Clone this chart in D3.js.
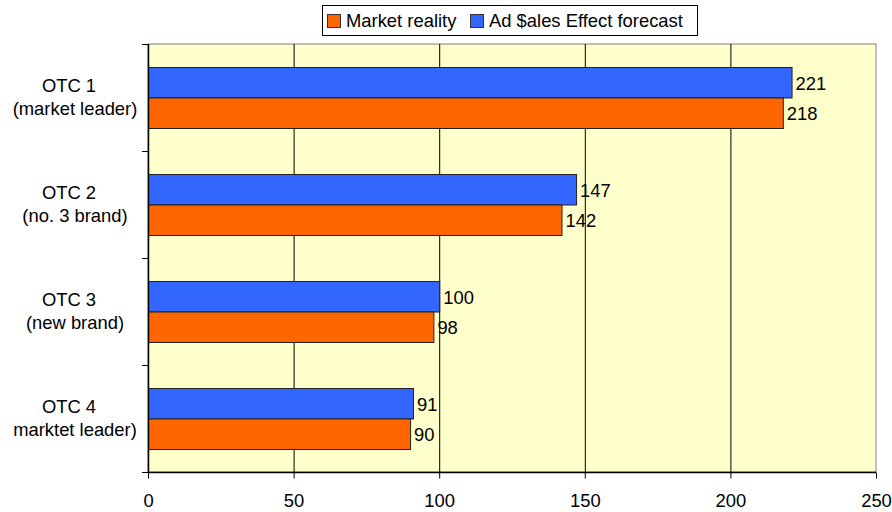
<!DOCTYPE html>
<html><head><meta charset="utf-8">
<script src="https://cdn.jsdelivr.net/npm/d3@7/dist/d3.min.js"></script>
<style>
html,body{margin:0;padding:0;background:#fff;}
svg{display:block;font-family:"Liberation Sans",Arial,sans-serif;}
</style></head>
<body>
<svg id="chart" width="892" height="512"></svg>
<script>
const categories = ["OTC 1", "OTC 2", "OTC 3", "OTC 4"];
const subLabels = ["(market leader)", "(no. 3 brand)", "(new brand)", "marktet leader)"];
const seriesNames = ["Ad $ales Effect forecast", "Market reality"];
const forecast = [221, 147, 100, 91];
const reality = [218, 142, 98, 90];
const xTicks = [0, 50, 100, 150, 200, 250];
const legendOrder = ["Market reality", "Ad $ales Effect forecast"];
const colors = {"Market reality": "#FF6600", "Ad $ales Effect forecast": "#3366FF"};

const values = {"Ad $ales Effect forecast": forecast, "Market reality": reality};
const FS = 18.4;

const svg = d3.select("#chart");
const L = 148, R = 876, T = 44, B = 472;

const x = d3.scaleLinear().domain([0, 250]).range([L, R]);
const y = d3.scaleBand().domain(categories).range([T, B]).paddingInner(0.43).paddingOuter(0.215);
const ySub = d3.scaleBand().domain(seriesNames).range([0, y.bandwidth()]);

// plot background
svg.append("rect").attr("x", L).attr("y", T).attr("width", R - L).attr("height", B - T)
  .attr("fill", "#FFFFCC").attr("stroke", "#808080").attr("stroke-width", 1);

// gridlines
svg.append("g").selectAll("line").data(xTicks.filter(d => d > 0 && d < 250)).join("line")
  .attr("x1", d => x(d) + 0.5).attr("x2", d => x(d) + 0.5)
  .attr("y1", T).attr("y2", B).attr("stroke", "#000").attr("stroke-width", 1);

// bars
const g = svg.append("g");
categories.forEach((c, i) => {
  seriesNames.forEach(s => {
    const v = values[s][i];
    const yy = y(c) + ySub(s);
    g.append("rect")
      .attr("x", x(0) + 0.5).attr("y", yy + 0.5)
      .attr("width", x(v) - x(0)).attr("height", ySub.bandwidth())
      .attr("fill", colors[s]).attr("stroke", "#222").attr("stroke-width", 1);
    g.append("text")
      .attr("x", x(v) + 4).attr("y", yy + ySub.bandwidth() / 2 + 1)
      .attr("dy", "0.35em").attr("font-size", FS).attr("fill", "#000")
      .text(v);
  });
});

// left axis line and ticks at band boundaries
const boundaries = categories.map(c => y(c) - y.step() * y.paddingInner() / 2).concat([B]);
svg.append("line").attr("x1", L + 0.5).attr("x2", L + 0.5).attr("y1", T).attr("y2", B)
  .attr("stroke", "#000").attr("stroke-width", 1.5);
svg.append("g").selectAll("line").data(boundaries).join("line")
  .attr("x1", L - 6).attr("x2", L).attr("y1", d => Math.round(d) + 0.5).attr("y2", d => Math.round(d) + 0.5)
  .attr("stroke", "#000");

// category labels
categories.forEach((c, i) => {
  const cy = y(c) + y.bandwidth() / 2;
  const t = svg.append("text").attr("font-size", FS).attr("text-anchor", "middle").attr("fill", "#000");
  t.append("tspan").attr("x", 69).attr("y", cy - 5.5).text(c);
  t.append("tspan").attr("x", 75).attr("y", cy + 17.5).text(subLabels[i]);
});

// bottom axis
const xAxis = d3.axisBottom(x).tickValues(xTicks).tickSize(6).tickPadding(15);
const ax = svg.append("g").attr("transform", `translate(0,${B + 0.5})`).call(xAxis);
ax.select(".domain").attr("stroke", "#000").attr("stroke-width", 1.5).attr("d", `M${L},0H${R}`);
ax.selectAll(".tick line").attr("stroke", "#000");
ax.selectAll(".tick text").attr("font-size", FS).attr("fill", "#000")
  .attr("font-family", "Liberation Sans, Arial, sans-serif");

// legend
const lg = svg.append("g");
lg.append("rect").attr("x", 322.5).attr("y", 5.5).attr("width", 375).attr("height", 30)
  .attr("fill", "#fff").attr("stroke", "#000").attr("stroke-width", 1);
const legX = [327, 470];
legendOrder.forEach((s, i) => {
  lg.append("rect").attr("x", legX[i] + 0.5).attr("y", 14.5).attr("width", 13).attr("height", 13)
    .attr("fill", colors[s]).attr("stroke", "#333");
  lg.append("text").attr("x", legX[i] + 19).attr("y", 27).attr("font-size", FS).attr("fill", "#000").text(s);
});
</script>
</body></html>
